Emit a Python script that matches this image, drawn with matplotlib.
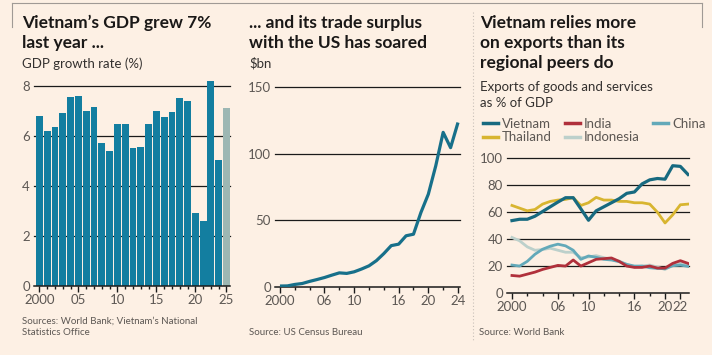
import matplotlib.pyplot as plt
from matplotlib.lines import Line2D

# data
gdp_years = list(range(2000, 2025))
gdp_growth = [6.82, 6.22, 6.38, 6.92, 7.58, 7.62, 7.02, 7.17, 5.73, 5.42,
              6.47, 6.47, 5.53, 5.58, 6.47, 7.02, 6.78, 6.96, 7.53, 7.42,
              2.92, 2.58, 8.2, 5.06, 7.12]

trade_years = list(range(2000, 2025))
trade_surplus = [0.5, 0.6, 1.7, 2.4, 4.0, 5.4, 6.9, 8.7, 10.4, 10.0,
                 11.2, 13.3, 15.7, 19.6, 24.9, 30.9, 32.0, 38.3, 39.5, 55.8,
                 69.6, 90.9, 116.1, 104.6, 123.5]

exp_years = list(range(2000, 2024))
vietnam = [53.75, 54.75, 54.75, 57, 60.5, 64, 67.5, 70.75, 70.75, 62.5, 54, 61,
           64, 67, 70, 74, 75, 81, 84, 85, 84.5, 94.5, 94, 88]
thailand = [65, 63, 61, 62, 66, 68, 69, 69.5, 70.75, 65, 67, 71,
            69, 69, 68, 68, 67, 67, 66, 60, 52, 58, 65.5, 66]
india = [13, 12.5, 14, 15.5, 17.5, 19, 20.5, 20, 24.5, 20, 22.5, 25,
         25.5, 26, 23.5, 20, 19, 19, 20, 18.5, 18.5, 22, 24, 22]
china = [20.75, 20, 23.5, 28.75, 32.5, 34.75, 36.25, 35, 31.75, 25, 27.5, 26.5,
         25, 24.5, 23.25, 21.25, 20, 20, 18.75, 18.25, 18, 20.25, 20.75, 19.75]
indonesia = [41.25, 38.75, 34.25, 31.75, 32.25, 33.25, 31.75, 30.25, 30.25, 26.25, 26.75, 27.75,
             26.25, 25, 23.75, 21.25, 19.25, 20, 20.75, 19.25, 17.5, 20.75, 22.5, 20.75]

BG = '#fdf0e4'
TEAL = '#137ea0'
INK = '#1a1817'
GREY = '#5c5753'
W, H = 712, 355

plt.rcParams['font.family'] = ['Lato', 'DejaVu Sans']

fig = plt.figure(figsize=(W / 100, H / 100), dpi=100, facecolor=BG)


def box(l, t, r, b):
    return [l / W, 1 - b / H, (r - l) / W, (b - t) / H]


def txt(x, y, s, size, color=INK, weight='normal'):
    fig.text(x / W, 1 - y / H, s, fontsize=size, color=color,
             fontweight=weight, va='baseline', ha='left')


def style(ax, yticks):
    ax.set_facecolor('none')
    for side in ['left', 'right', 'top']:
        ax.spines[side].set_visible(False)
    ax.spines['bottom'].set_color('#1a1a1a')
    ax.spines['bottom'].set_linewidth(1.1)
    ax.set_yticks(yticks)
    for v in yticks[1:]:
        ax.axhline(v, color='#1a1a1a', lw=0.9, zorder=0, clip_on=False)
    ax.tick_params(axis='y', length=0, pad=3, labelsize=9.5, labelcolor=GREY)
    ax.tick_params(axis='x', which='major', length=4, width=1, direction='out',
                   pad=2, labelsize=9.5, labelcolor=GREY, color='#1a1a1a')
    ax.tick_params(axis='x', which='minor', length=2.5, width=1, color='#1a1a1a')


# left panel: GDP growth bars
ax1 = fig.add_axes(box(34, 80, 230, 285.7))
colors = [TEAL] * (len(gdp_years) - 1) + ['#9db7b3']
ax1.bar(gdp_years, gdp_growth, width=0.88, color=colors, zorder=2)
ax1.set_xlim(1999.3, 2024.45)
ax1.set_ylim(0, 8.25)
style(ax1, [0, 2, 4, 6, 8])
ax1.set_xticks([2000, 2005, 2010, 2015, 2020, 2024])
ax1.set_xticklabels(['2000', '05', '10', '15', '20', '25'])
ax1.set_xticks(gdp_years, minor=True)

# middle panel: trade surplus line
ax2 = fig.add_axes(box(275, 87.3, 460, 286.7))
ax2.plot(trade_years, trade_surplus, color='#17708a', lw=2.3, zorder=3,
         solid_capstyle='butt')
ax2.set_xlim(1999.33, 2024.27)
ax2.set_ylim(0, 150)
style(ax2, [0, 50, 100, 150])
ax2.set_xticks([2000, 2006, 2010, 2016, 2020, 2024])
ax2.set_xticklabels(['2000', '06', '10', '16', '20', '24'])
ax2.set_xticks(range(2000, 2025, 2), minor=True)

# right panel: exports share
ax3 = fig.add_axes(box(507, 158.3, 689, 293))
ax3.plot(exp_years, indonesia, color='#bcd0cb', lw=2, zorder=3)
ax3.plot(exp_years, china, color='#63a9b9', lw=2, zorder=3)
ax3.plot(exp_years, india, color='#b0303b', lw=2, zorder=3)
ax3.plot(exp_years, thailand, color='#d8b530', lw=2, zorder=3)
ax3.plot(exp_years, vietnam, color='#176a80', lw=2.3, zorder=4)
ax3.set_xlim(1999.35, 2023.13)
ax3.set_ylim(0, 100)
style(ax3, [0, 20, 40, 60, 80, 100])
ax3.set_xticks([2000, 2006, 2010, 2016, 2020, 2022])
ax3.set_xticklabels(['2000', '06', '10', '16', '20', '22'])
ax3.set_xticks(range(2000, 2024, 2), minor=True)

# legend
handles = [Line2D([], [], color='#176a80', lw=2.5),
           Line2D([], [], color='#d8b530', lw=2.5),
           Line2D([], [], color='#b0303b', lw=2.5),
           Line2D([], [], color='#bcd0cb', lw=2.5),
           Line2D([], [], color='#63a9b9', lw=2.5)]
labels = ['Vietnam', 'Thailand', 'India', 'Indonesia', 'China']
fig.legend(handles, labels, ncol=3, loc='upper left',
           bbox_to_anchor=(476 / W, 1 - 111 / H), frameon=False,
           fontsize=9.5, handlelength=1.15, handletextpad=0.3,
           columnspacing=1.0, labelspacing=0.12, borderpad=0,
           labelcolor=GREY)

# titles
txt(22, 28.3, "Vietnam\u2019s GDP grew 7%", 12.5, weight='bold')
txt(22, 48.3, "last year ...", 12.5, weight='bold')
txt(22, 67.5, "GDP growth rate (%)", 9.5, color='#33302e')

txt(249, 28.3, "... and its trade surplus", 12.5, weight='bold')
txt(249, 48.3, "with the US has soared", 12.5, weight='bold')
txt(249, 67.5, "$bn", 9.5, color='#33302e')

txt(480, 28.3, "Vietnam relies more", 12.5, weight='bold')
txt(480, 48.3, "on exports than its", 12.5, weight='bold')
txt(480, 68.3, "regional peers do", 12.5, weight='bold')
txt(480, 91, "Exports of goods and services", 9.5, color='#33302e')
txt(480, 107.3, "as % of GDP", 9.5, color='#33302e')

# sources
txt(22, 324, "Sources: World Bank; Vietnam\u2019s National", 7, color=GREY)
txt(22, 335, "Statistics Office", 7, color=GREY)
txt(249, 335, "Source: US Census Bureau", 7, color=GREY)
txt(479, 335, "Source: World Bank", 7, color=GREY)

# frame and separator
frame = dict(color='#a09a95', lw=0.8, transform=fig.transFigure)
fig.add_artist(Line2D([12 / W, 702 / W], [1 - 3 / H, 1 - 3 / H], **frame))
fig.add_artist(Line2D([12 / W, 12 / W], [1 - 3 / H, 1 - 27 / H], **frame))
fig.add_artist(Line2D([702 / W, 702 / W], [1 - 3 / H, 1 - 27 / H], **frame))
fig.add_artist(Line2D([473 / W, 473 / W], [1 - 12 / H, 1 - 342 / H],
                      color='#c8c0b8', lw=0.8, ls=(0, (1, 2)),
                      transform=fig.transFigure))

fig.savefig('out.png', dpi=100, facecolor=BG)
